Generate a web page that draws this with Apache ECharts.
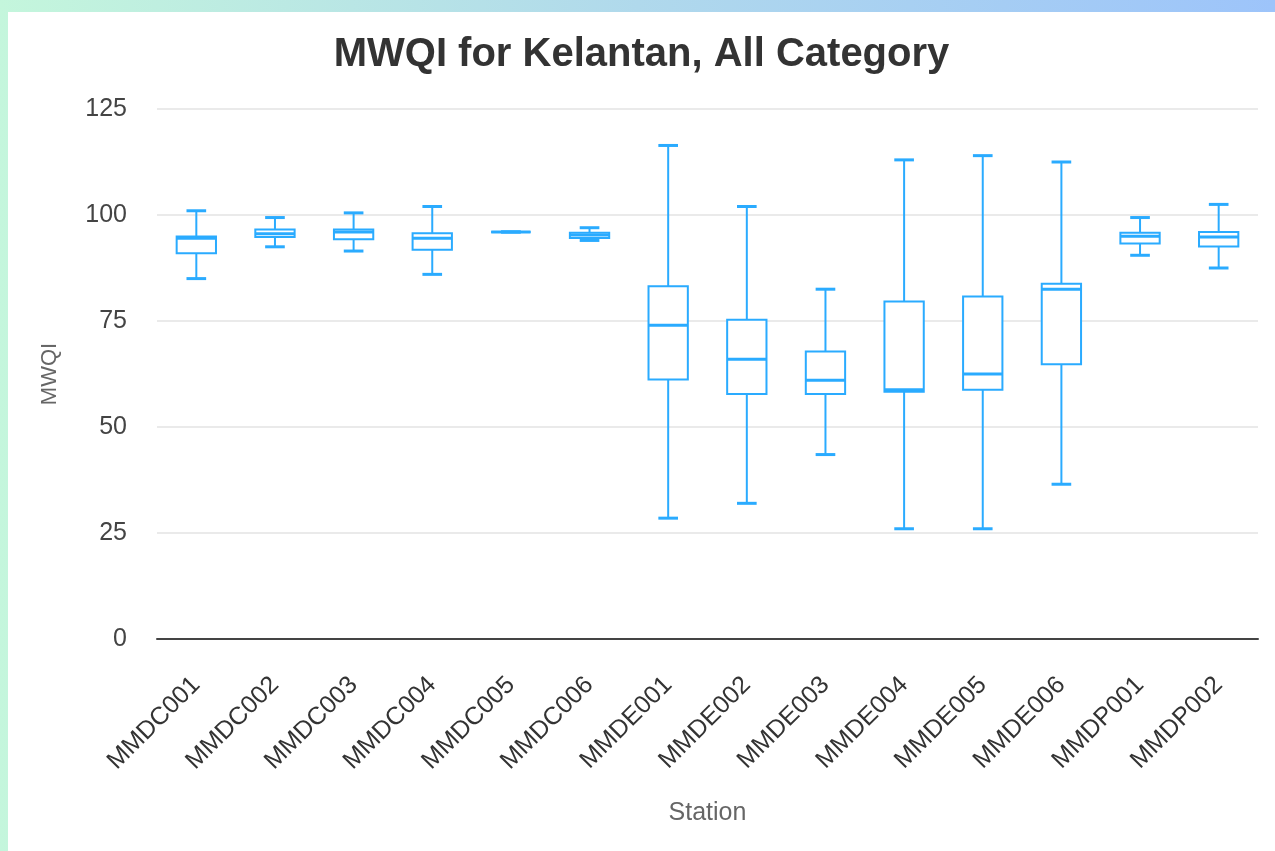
<!DOCTYPE html>
<html>
<head>
<meta charset="utf-8">
<script src="https://cdn.jsdelivr.net/npm/echarts@6/dist/echarts.min.js"></script>
<style>
  html, body { margin: 0; padding: 0; width: 1275px; height: 851px; overflow: hidden; }
  body { background: linear-gradient(90deg, #c4f6dc 0%, #b0d9ec 50%, #9dc4fa 100%); position: relative; }
  #chart { position: absolute; left: 8px; top: 12px; width: 1267px; height: 839px; background: #fff; }
</style>
</head>
<body>
<div id="chart"></div>
<script>
// station boxplot stats
const stations = ['MMDC001', 'MMDC002', 'MMDC003', 'MMDC004', 'MMDC005', 'MMDC006', 'MMDE001', 'MMDE002', 'MMDE003', 'MMDE004', 'MMDE005', 'MMDE006', 'MMDP001', 'MMDP002']
const minVals = [85, 92.5, 91.5, 86, 96, 94, 28.5, 32, 43.5, 26, 26, 36.5, 90.5, 87.5]
const q1Vals = [91, 94.8, 94.3, 91.8, 96, 94.6, 61.2, 57.8, 57.8, 58.3, 58.8, 64.8, 93.3, 92.6]
const medianVals = [94.5, 95.6, 96, 94.5, 96, 95.3, 74, 66, 61, 58.8, 62.5, 82.5, 95, 94.8]
const q3Vals = [94.9, 96.6, 96.6, 95.7, 96, 95.8, 83.2, 75.3, 67.8, 79.6, 80.8, 83.8, 95.8, 96]
const maxVals = [101, 99.4, 100.5, 102, 96, 97, 116.4, 102, 82.5, 113, 114, 112.5, 99.4, 102.5]
const yTicks = [0, 25, 50, 75, 100, 125]

const boxColor = '#2aabff'

const seriesData = stations.map((s, i) => [i, minVals[i], q1Vals[i], medianVals[i], q3Vals[i], maxVals[i]])

function renderBox(params, api) {
  const idx = api.value(0)
  const pMin = api.coord([idx, api.value(1)])
  const pQ1 = api.coord([idx, api.value(2)])
  const pMed = api.coord([idx, api.value(3)])
  const pQ3 = api.coord([idx, api.value(4)])
  const pMax = api.coord([idx, api.value(5)])
  const band = api.size([1, 0])[0]
  const boxW = band * 0.5
  const capW = band * 0.25
  const x = pMed[0]
  const lineStyle = { stroke: boxColor, lineWidth: 2, fill: null }
  const thick = { stroke: boxColor, lineWidth: 3 }
  return {
    type: 'group',
    children: [
      { type: 'line', shape: { x1: x, y1: pMax[1], x2: x, y2: pQ3[1] }, style: lineStyle },
      { type: 'line', shape: { x1: x, y1: pQ1[1], x2: x, y2: pMin[1] }, style: lineStyle },
      { type: 'line', shape: { x1: x - capW / 2, y1: pMax[1], x2: x + capW / 2, y2: pMax[1] }, style: thick },
      { type: 'line', shape: { x1: x - capW / 2, y1: pMin[1], x2: x + capW / 2, y2: pMin[1] }, style: thick },
      { type: 'rect', shape: { x: x - boxW / 2, y: pQ3[1], width: boxW, height: pQ1[1] - pQ3[1] }, style: { stroke: boxColor, lineWidth: 2, fill: '#fff' } },
      { type: 'line', shape: { x1: x - boxW / 2, y1: pMed[1], x2: x + boxW / 2, y2: pMed[1] }, style: thick }
    ]
  }
}

const chart = echarts.init(document.getElementById('chart'))
chart.setOption({
  animation: false,
  title: {
    text: 'MWQI for Kelantan, All Category',
    left: 'center',
    top: 18,
    textStyle: { fontFamily: 'Liberation Sans', fontSize: 40, fontWeight: 'bold', color: '#333' }
  },
  grid: { left: 149, right: 17, top: 97, bottom: 212 },
  xAxis: {
    type: 'category',
    data: stations,
    name: 'Station',
    nameLocation: 'middle',
    nameGap: 162,
    nameTextStyle: { fontFamily: 'Liberation Sans', fontSize: 25, color: '#666' },
    axisLine: { lineStyle: { color: '#444', width: 2 } },
    axisTick: { show: false },
    axisLabel: { rotate: 45, margin: 42, fontFamily: 'Liberation Sans', fontSize: 25, color: '#333', interval: 0 }
  },
  yAxis: {
    type: 'value',
    min: yTicks[0],
    max: yTicks[yTicks.length - 1],
    interval: 25,
    name: 'MWQI',
    nameLocation: 'middle',
    nameGap: 96,
    nameTextStyle: { fontFamily: 'Liberation Sans', fontSize: 22, color: '#666' },
    axisLine: { show: false },
    axisTick: { show: false },
    axisLabel: { margin: 30, fontFamily: 'Liberation Sans', fontSize: 25, color: '#444' },
    splitLine: { lineStyle: { color: '#e3e3e3', width: 1.5 } }
  },
  series: [{
    type: 'custom',
    renderItem: renderBox,
    encode: { x: 0, y: [1, 2, 3, 4, 5] },
    data: seriesData
  }]
})
</script>
</body>
</html>
